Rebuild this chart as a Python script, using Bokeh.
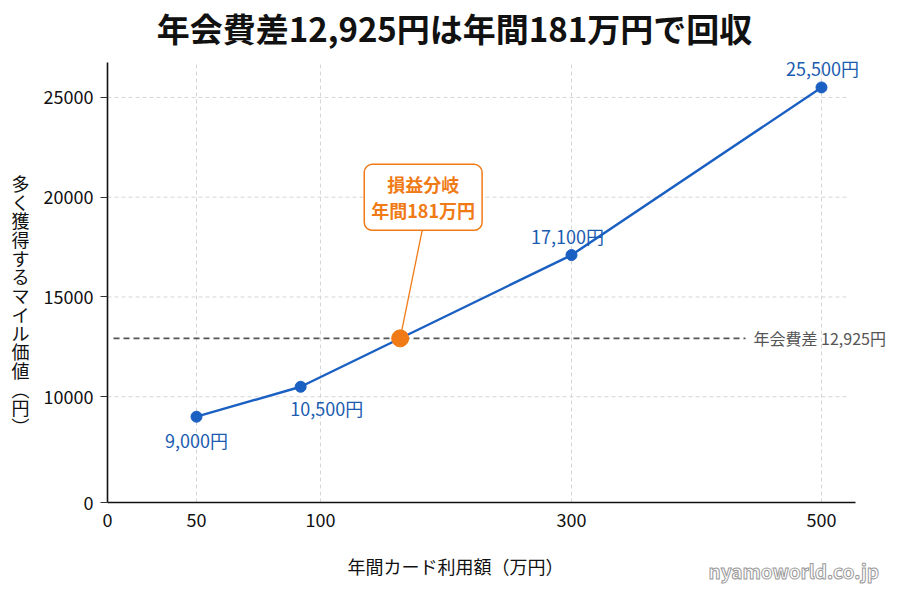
import numpy as np
from bokeh.plotting import figure
from bokeh.models import Range1d, FixedTicker, Label
from bokeh.embed import file_html
from bokeh.resources import INLINE

# ---------------- data ----------------
title_text = "年会費差12,925円は年間181万円で回収"
x_label = "年間カード利用額（万円）"
y_label = "多く獲得するマイル価値（円）"
x_ticks = [0, 50, 100, 300, 500]
y_ticks = [0, 10000, 15000, 20000, 25000]
spend = [50, 92, 300, 500]              # 万円
miles = [9000, 10500, 17100, 25500]     # 円
fee_diff = 12925                        # 円
breakeven_spend = 181                   # 万円
watermark = "nyamoworld.co.jp"

# ---------------- style / scale breaks ----------------
FONT = "Noto Sans CJK JP"
BLUE = "#1a5fc2"
BLUE_TXT = "#1b5cb0"
ORANGE = "#f07b16"
GRAY = "#555555"
X_BREAK_POS = [0, 0.89, 2.13, 4.64, 7.14]     # broken x axis (display units)
Y_BREAK_SRC = [0, 5000, 30000]                # broken y axis near zero
Y_BREAK_DST = [4700, 5000, 30000]

def xmap(v):
    return np.interp(v, x_ticks, X_BREAK_POS)

def ymap(v):
    return np.interp(v, Y_BREAK_SRC, Y_BREAK_DST)

W, H = 900, 600
TOP, LEFT = 62, 107
FRAME_W, FRAME_H = 745, 440
X0, X1 = 0.0, 7.45          # plotting area in display units
Y0, Y1 = 4700.0, 26750.0
dx_px = (X1 - X0) / FRAME_W
dy_px = (Y1 - Y0) / FRAME_H
# whole canvas is the frame; axes sit at fixed locations inside it
XR = Range1d(X0 - LEFT * dx_px, X0 + (W - LEFT) * dx_px)
YR = Range1d(Y1 - (H - TOP) * dy_px, Y1 + TOP * dy_px)

def sy(top_px):
    return H - top_px

p = figure(width=W, height=H, x_range=XR, y_range=YR, title=None,
           output_backend="svg", toolbar_location=None,
           min_border=0)
p.outline_line_color = None
p.background_fill_color = "white"
p.xgrid.visible = False
p.ygrid.visible = False

xt = [float(v) for v in xmap(x_ticks)]
yt = [float(v) for v in ymap(y_ticks)]

# dashed grid inside plotting area
p.segment(x0=xt[1:], y0=[Y0] * (len(xt) - 1), x1=xt[1:], y1=[Y1] * (len(xt) - 1),
          line_color="#d6d6d6", line_dash="4 3", line_width=1)
p.segment(x0=[X0] * (len(yt) - 1), y0=yt[1:], x1=[X0 + 742 * dx_px] * (len(yt) - 1),
          y1=yt[1:], line_color="#d6d6d6", line_dash="4 3", line_width=1)

xa, ya = p.xaxis[0], p.yaxis[0]
xa.fixed_location = Y0
ya.fixed_location = X0
xa.bounds = (X0, X0 + 748 * dx_px)
ya.bounds = (Y0, Y1)
xa.ticker = FixedTicker(ticks=xt)
ya.ticker = FixedTicker(ticks=yt)
xa.major_label_overrides = {t: str(v) for t, v in zip(xt, x_ticks)}
ya.major_label_overrides = {t: str(v) for t, v in zip(yt, y_ticks)}
for ax in (xa, ya):
    ax.axis_line_color = "#111111"
    ax.axis_line_width = 1.6
    ax.major_label_text_font = FONT
    ax.major_label_text_font_size = "18px"
    ax.major_label_text_color = "#111111"
    ax.minor_tick_line_color = None
    ax.major_tick_in = 0
xa.major_tick_out = 0
ya.major_tick_out = 7
ya.major_tick_line_color = "#333333"
xa.major_label_standoff = 10
ya.major_label_standoff = 7

def add_text(x, y, text, size, color="#111111", align="center", baseline="middle",
             style="normal", units="screen", **kw):
    p.add_layout(Label(x=x, y=y, x_units=units, y_units=units, text=text,
                       text_font=FONT, text_font_size=size, text_color=color,
                       text_align=align, text_baseline=baseline,
                       text_font_style=style, **kw))

# title and axis titles
add_text(454, sy(27), title_text, "33px", style="bold")
add_text(455, sy(565), x_label, "18px")
vert = y_label.replace("（", "︵").replace("）", "︶")
add_text(20, sy(304), "\n".join(vert), "18px", text_line_height=0.72)

# fee line
fee_y = float(ymap(fee_diff))
fee_px = TOP + (Y1 - fee_y) / dy_px
p.line(x=[X0 + 6 * dx_px, X0 + 638 * dx_px], y=[fee_y, fee_y], line_color=GRAY,
       line_width=1.6, line_dash="6 4")
add_text(753, sy(fee_px), f"年会費差 {fee_diff:,}円", "16px", color=GRAY, align="left")

# series
xs = xmap(spend)
ys = ymap(miles)
p.line(x=xs, y=ys, line_color=BLUE, line_width=2.4)
p.scatter(x=xs, y=ys, size=11, fill_color=BLUE, line_color=BLUE)

label_offsets = [(0, -23), (26, -21), (-4, 19), (1, 19)]
for x, y, m, (ox, oy) in zip(xs, ys, miles, label_offsets):
    add_text(float(x), float(y), f"{m:,}円", "18px", color=BLUE_TXT, units="data",
             x_offset=ox, y_offset=oy)

# break-even: where the line crosses the fee difference
i = int(np.searchsorted(miles, fee_diff)) - 1
t = (fee_diff - miles[i]) / (miles[i + 1] - miles[i])
bx = float(xs[i] + t * (xs[i + 1] - xs[i]))
box_dx, box_dy, box_half_h = 23, 141, 33
p.line(x=[bx, bx + (box_dx - 1) * dx_px], y=[fee_y, fee_y + (box_dy - box_half_h) * dy_px],
       line_color=ORANGE, line_width=1.3)
p.scatter(x=[bx], y=[fee_y], size=17, fill_color=ORANGE, line_color=ORANGE)
add_text(bx, fee_y, f"損益分岐\n年間{breakeven_spend}万円", "18px", color=ORANGE,
         style="bold", units="data", x_offset=box_dx, y_offset=box_dy,
         text_line_height=1.0, background_fill_color="white",
         border_line_color=ORANGE, border_line_width=1.5, padding=7, border_radius=8)

# watermark
add_text(708, sy(570), watermark, "19px", color="white", align="left", style="bold",
         text_outline_color="#9a9a9a")

open("out.html", "w").write(file_html(p, INLINE))
